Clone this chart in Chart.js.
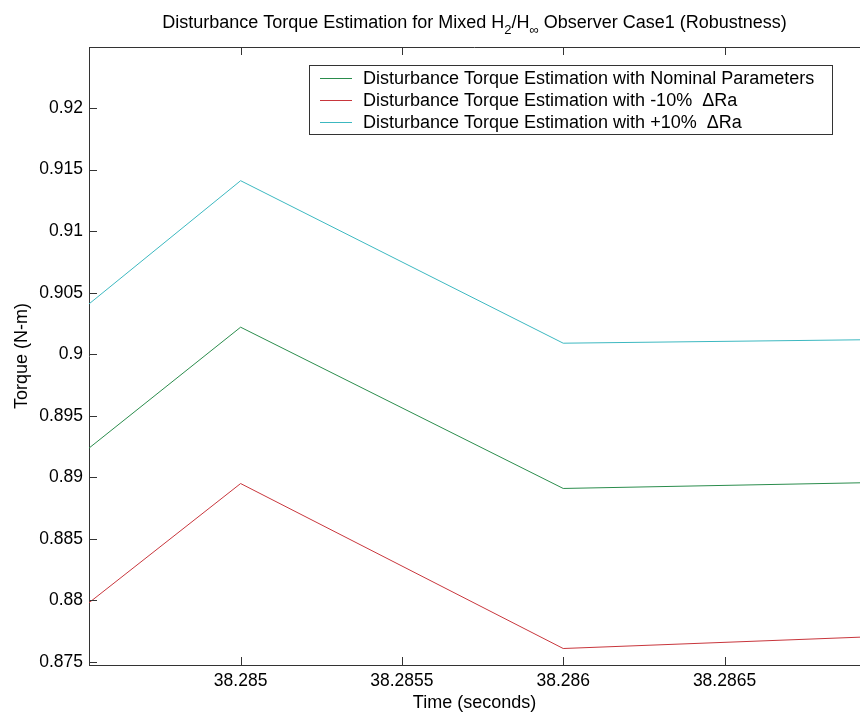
<!DOCTYPE html>
<html>
<head>
<meta charset="utf-8">
<script src="https://cdn.jsdelivr.net/npm/chart.js@4"></script>
<style>
  html, body { margin: 0; padding: 0; background: #fff; overflow: hidden; }
</style>
</head>
<body>
<canvas id="myChart" width="860" height="717"></canvas>
<script>
// samples every 1 ms, the first and last lie just outside the visible window
const times = [38.284, 38.285, 38.286, 38.287];
const nominal = [0.8813, 0.9022, 0.8891, 0.8896];
const minus10 = [0.8689, 0.8895, 0.8761, 0.8771];
const plus10 = [0.8928, 0.9141, 0.9009, 0.9012];

const seriesLabels = [
  "Disturbance Torque Estimation with Nominal Parameters",
  "Disturbance Torque Estimation with -10%  \u0394Ra",
  "Disturbance Torque Estimation with +10%  \u0394Ra",
];
const xTicks = [38.285, 38.2855, 38.286, 38.2865];
const yTicks = [0.875, 0.88, 0.885, 0.89, 0.895, 0.9, 0.905, 0.91, 0.915, 0.92];

const FONT = '"Liberation Sans", Arial, sans-serif';
Chart.defaults.font.family = FONT;
Chart.defaults.font.size = 17.5;
Chart.defaults.color = "#000";

const toPoints = (ys) => times.map((t, i) => ({ x: t, y: ys[i] }));

const data = {
  datasets: [
    { label: seriesLabels[0], data: toPoints(nominal), borderColor: "#2a8c4c" },
    { label: seriesLabels[1], data: toPoints(minus10), borderColor: "#c8363c" },
    { label: seriesLabels[2], data: toPoints(plus10), borderColor: "#3cb8c0" },
  ].map(d => Object.assign(d, { borderWidth: 1, pointRadius: 0, tension: 0, fill: false })),
};

// title with sub scripts, drawn like matlab does
const titlePlugin = {
  id: "mtitle",
  afterDraw(chart) {
    const ctx = chart.ctx;
    const parts = [
      ["Disturbance Torque Estimation for Mixed H", 0],
      ["2", 1],
      ["/H", 0],
      ["\u221E", 1],
      [" Observer Case1 (Robustness)", 0],
    ];
    const big = "18px " + FONT, small = "13px " + FONT;
    ctx.save();
    let w = 0;
    parts.forEach(p => { ctx.font = p[1] ? small : big; w += ctx.measureText(p[0]).width; });
    const ca = chart.chartArea;
    let x = (ca.left + ca.right) / 2 - w / 2;
    const y = 28;
    ctx.fillStyle = "#000";
    ctx.textBaseline = "alphabetic";
    parts.forEach(p => {
      ctx.font = p[1] ? small : big;
      ctx.fillText(p[0], x, p[1] ? y + 6 : y);
      x += ctx.measureText(p[0]).width;
    });
    ctx.restore();
  },
};

// top border and inward ticks
const axesPlugin = {
  id: "maxes",
  afterDraw(chart) {
    const ctx = chart.ctx, ca = chart.chartArea;
    const xs = chart.scales.x, ys = chart.scales.y;
    const tl = 8;
    ctx.save();
    ctx.strokeStyle = "#333";
    ctx.lineWidth = 1;
    ctx.beginPath();
    ctx.moveTo(ca.left, ca.top + 0.5);
    ctx.lineTo(ca.right, ca.top + 0.5);
    xTicks.forEach(v => {
      const px = Math.round(xs.getPixelForValue(v)) + 0.5;
      ctx.moveTo(px, ca.bottom);
      ctx.lineTo(px, ca.bottom - tl);
      ctx.moveTo(px, ca.top);
      ctx.lineTo(px, ca.top + tl);
    });
    yTicks.forEach(v => {
      const py = Math.round(ys.getPixelForValue(v)) + 0.5;
      ctx.moveTo(ca.left, py);
      ctx.lineTo(ca.left + tl, py);
    });
    ctx.stroke();
    ctx.restore();
  },
};

// legend box inside the axes
const legendPlugin = {
  id: "mlegend",
  afterDraw(chart) {
    const ctx = chart.ctx;
    const box = { x: 309.5, y: 65.5, w: 523, h: 69 };
    ctx.save();
    ctx.fillStyle = "#fff";
    ctx.fillRect(box.x, box.y, box.w, box.h);
    ctx.strokeStyle = "#333";
    ctx.lineWidth = 1;
    ctx.strokeRect(box.x, box.y, box.w, box.h);
    ctx.font = "18px " + FONT;
    ctx.textBaseline = "middle";
    chart.data.datasets.forEach((ds, i) => {
      const yy = 78 + i * 22;
      ctx.strokeStyle = ds.borderColor;
      ctx.beginPath();
      ctx.moveTo(320, yy + 0.5);
      ctx.lineTo(352, yy + 0.5);
      ctx.stroke();
      ctx.fillStyle = "#000";
      ctx.fillText(ds.label, 363, yy + 1);
    });
    ctx.restore();
  },
};

const config = {
  type: "line",
  data: data,
  plugins: [titlePlugin, axesPlugin, legendPlugin],
  options: {
    responsive: false,
    animation: false,
    layout: { padding: { left: 0, right: 0, top: 47, bottom: 0 } },
    plugins: { legend: { display: false }, tooltip: { enabled: false } },
    scales: {
      x: {
        type: "linear",
        min: 38.28453,
        max: 38.28692,
        afterBuildTicks: (s) => { s.ticks = xTicks.map(v => ({ value: v })); },
        afterFit: (s) => { s.height = 52; },
        grid: { drawOnChartArea: false, drawTicks: false },
        border: { display: true, color: "#333", width: 1 },
        ticks: { padding: 6, maxRotation: 0, autoSkip: false, callback: (v) => String(v) },
        title: { display: true, text: "Time (seconds)", font: { size: 18 }, padding: { top: 0, bottom: 3 } },
      },
      y: {
        type: "linear",
        min: 0.87476,
        max: 0.92496,
        afterBuildTicks: (s) => { s.ticks = yTicks.map(v => ({ value: v })); },
        afterFit: (s) => { s.width = 89; },
        grid: { drawOnChartArea: false, drawTicks: false },
        border: { display: true, color: "#333", width: 1 },
        ticks: { padding: 6, autoSkip: false, callback: (v) => String(v) },
        title: { display: true, text: "Torque (N-m)", font: { size: 18 }, padding: { top: 11, bottom: 0 } },
      },
    },
  },
};

const myChart = new Chart(document.getElementById("myChart"), config);
</script>
</body>
</html>
